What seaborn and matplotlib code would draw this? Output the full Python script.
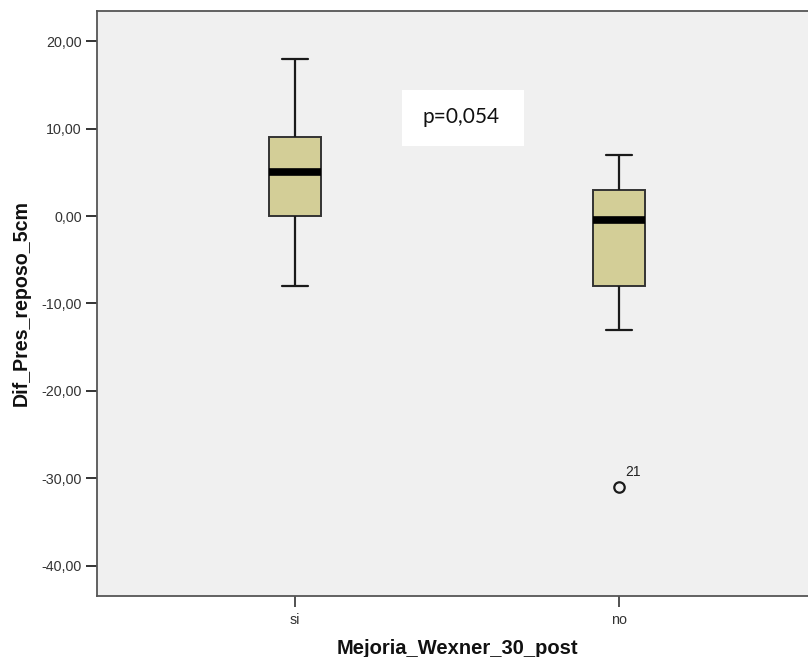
import matplotlib
matplotlib.use("Agg")
import matplotlib.pyplot as plt
import matplotlib.ticker as mticker
import numpy as np
import pandas as pd
import seaborn as sns

# Differences in resting pressure at 5 cm, grouped by Wexner improvement at 30 days
grupos = ["si", "no"]
valores_si = [-8, -3, 0, 0, 2, 5, 5, 7, 9, 9, 12, 18]
valores_no = [-31, -13, -8, -8, -1, 0, 3, 3, 5, 7]
caso_atipico = "21"
p_valor = "p=0,054"
y_ticks = [20, 10, 0, -10, -20, -30, -40]

df = pd.DataFrame({
    "Mejoria_Wexner_30_post": ["si"] * len(valores_si) + ["no"] * len(valores_no),
    "Dif_Pres_reposo_5cm": valores_si + valores_no,
})

sns.set_theme(style="white")
plt.rcParams["font.family"] = ["Liberation Sans", "DejaVu Sans"]

fig = plt.figure(figsize=(8.08, 6.57), dpi=100)
ax = fig.add_axes([97 / 808, 1 - 596 / 657, 1 - 97 / 808, (596 - 11) / 657])
ax.set_facecolor("#F0F0F0")

sns.boxplot(
    data=df, x="Mejoria_Wexner_30_post", y="Dif_Pres_reposo_5cm",
    order=grupos, color="#D3CE97", saturation=1, width=0.16,
    linecolor="#1a1a1a", linewidth=1.6, whis=1.5, ax=ax,
    medianprops=dict(color="black", linewidth=5.5, solid_capstyle="butt"),
    boxprops=dict(edgecolor="#333333", linewidth=1.4),
    flierprops=dict(marker="o", markerfacecolor="none", markeredgecolor="#1a1a1a",
                    markeredgewidth=1.6, markersize=7.5),
)

# Label the outlying case
outlier_val = min(valores_no)
ax.annotate(caso_atipico, xy=(1, outlier_val), xytext=(4.3, 6.0), textcoords="offset points",
            fontsize=10, color="#222222", ha="left", va="bottom")

ax.set_xlim(-0.611, 1.583)
ax.set_ylim(-43.43, 23.43)
ax.set_yticks(y_ticks)
ax.yaxis.set_major_formatter(mticker.FuncFormatter(lambda v, _: f"{v:.2f}".replace(".", ",")))

ax.tick_params(axis="y", left=True, length=8, width=1.4, color="#333333",
               labelsize=10.3, labelcolor="#333333", pad=3)
ax.tick_params(axis="x", bottom=True, length=8, width=1.2, color="#333333",
               labelsize=10.3, labelcolor="#333333", pad=4)

for side in ["left", "bottom", "top"]:
    ax.spines[side].set_color("#555555")
    ax.spines[side].set_linewidth(1.3)
ax.spines["right"].set_visible(False)

ax.set_ylabel("Dif_Pres_reposo_5cm", fontsize=14.1, fontweight="bold", color="#111111")
ax.set_xlabel("Mejoria_Wexner_30_post", fontsize=14.5, fontweight="bold", color="#111111")
ax.yaxis.set_label_coords(-0.0933, 0.5)
ax.xaxis.set_label_coords(0.507, -0.073)
ax.xaxis.label.set_va("top")

# White annotation panel with the test result
ax.add_patch(plt.Rectangle((0.330, 8.0), 0.377, 6.4, facecolor="white",
                           edgecolor="none", zorder=3))
ax.text(0.511, 10.66, p_valor, fontsize=15, family=["Lato", "DejaVu Sans"],
        ha="center", va="baseline", color="#111111", zorder=4)

fig.savefig("out.png", dpi=100)
